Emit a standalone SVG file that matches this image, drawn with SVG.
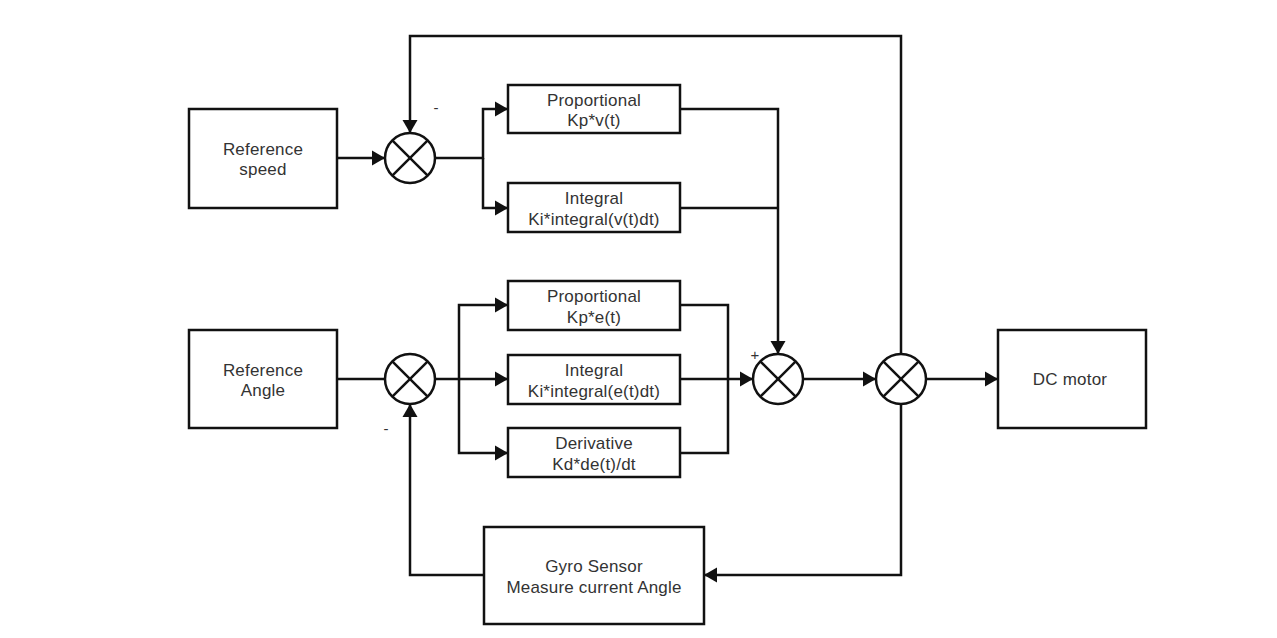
<svg xmlns="http://www.w3.org/2000/svg" width="1277" height="638" viewBox="0 0 1277 638">
<style>
.box{fill:#fff;stroke:#111;stroke-width:2.5}
.sum circle{fill:#fff;stroke:#111;stroke-width:2.5}
.sum line{stroke:#111;stroke-width:2.5}
.t{font-family:"Liberation Sans",Arial,sans-serif;font-size:17px;letter-spacing:0.2px;fill:#333;text-anchor:middle}
.sg{font-family:"Liberation Sans",Arial,sans-serif;font-size:15px;fill:#333;text-anchor:middle}
#connectors path{fill:none;stroke:#111;stroke-width:2.5}
</style>
<defs>
<marker id="arr" markerUnits="userSpaceOnUse" markerWidth="14" markerHeight="16" refX="13" refY="8" orient="auto">
<path d="M0,0.5 L13,8 L0,15.5 Z" fill="#111"/>
</marker>
</defs>
<rect width="1277" height="638" fill="#fff"/>

<g id="connectors">
<path d="M337,158 H385" marker-end="url(#arr)"/>
<path d="M901,354 V36 H410 V133" marker-end="url(#arr)"/>
<path d="M435,158 H483 V109 H508" marker-end="url(#arr)"/>
<path d="M483,158 V208 H508" marker-end="url(#arr)"/>
<path d="M680,109 H778 V354" marker-end="url(#arr)"/>
<path d="M680,208 H778"/>
<path d="M337,379 H385"/>
<path d="M435,379 H459 V305 H508" marker-end="url(#arr)"/>
<path d="M459,379 H508" marker-end="url(#arr)"/>
<path d="M459,379 V453 H508" marker-end="url(#arr)"/>
<path d="M680,305 H728 V453 H680"/>
<path d="M680,379 H753" marker-end="url(#arr)"/>
<path d="M803,379 H876" marker-end="url(#arr)"/>
<path d="M926,379 H998" marker-end="url(#arr)"/>
<path d="M901,404 V575 H704" marker-end="url(#arr)"/>
<path d="M484,575 H410 V404" marker-end="url(#arr)"/>
</g>

<g id="ref-speed">
<rect class="box" x="189" y="109" width="148" height="99"/>
<text class="t" x="263" y="155">Reference</text>
<text class="t" x="263" y="175">speed</text>
</g>

<g id="ref-angle">
<rect class="box" x="189" y="330" width="148" height="98"/>
<text class="t" x="263" y="376">Reference</text>
<text class="t" x="263" y="396">Angle</text>
</g>

<g id="sum1" class="sum">
<circle cx="410" cy="158" r="25"/>
<line x1="392.3" y1="140.3" x2="427.7" y2="175.7"/>
<line x1="427.7" y1="140.3" x2="392.3" y2="175.7"/>
<text class="sg" x="436" y="113">-</text>
</g>

<g id="sum3" class="sum">
<circle cx="410" cy="379" r="25"/>
<line x1="392.3" y1="361.3" x2="427.7" y2="396.7"/>
<line x1="427.7" y1="361.3" x2="392.3" y2="396.7"/>
<text class="sg" x="386" y="434">-</text>
</g>

<g id="sum2" class="sum">
<circle cx="778" cy="379" r="25"/>
<line x1="760.3" y1="361.3" x2="795.7" y2="396.7"/>
<line x1="795.7" y1="361.3" x2="760.3" y2="396.7"/>
<text class="sg" x="755" y="360">+</text>
</g>

<g id="sum4" class="sum">
<circle cx="901" cy="379" r="25"/>
<line x1="883.3" y1="361.3" x2="918.7" y2="396.7"/>
<line x1="918.7" y1="361.3" x2="883.3" y2="396.7"/>
</g>

<g id="prop-speed">
<rect class="box" x="508" y="85" width="172" height="48"/>
<text class="t" x="594" y="106">Proportional</text>
<text class="t" x="594" y="126">Kp*v(t)</text>
</g>

<g id="int-speed">
<rect class="box" x="508" y="183" width="172" height="49"/>
<text class="t" x="594" y="204">Integral</text>
<text class="t" x="594" y="225">Ki*integral(v(t)dt)</text>
</g>

<g id="prop-angle">
<rect class="box" x="508" y="281" width="172" height="49"/>
<text class="t" x="594" y="302">Proportional</text>
<text class="t" x="594" y="323">Kp*e(t)</text>
</g>

<g id="int-angle">
<rect class="box" x="508" y="355" width="172" height="49"/>
<text class="t" x="594" y="376">Integral</text>
<text class="t" x="594" y="397">Ki*integral(e(t)dt)</text>
</g>

<g id="deriv-angle">
<rect class="box" x="508" y="428" width="172" height="49"/>
<text class="t" x="594" y="449">Derivative</text>
<text class="t" x="594" y="470">Kd*de(t)/dt</text>
</g>

<g id="dc-motor">
<rect class="box" x="998" y="330" width="148" height="98"/>
<text class="t" x="1070" y="385">DC motor</text>
</g>

<g id="gyro">
<rect class="box" x="484" y="527" width="220" height="97"/>
<text class="t" x="594" y="572">Gyro Sensor</text>
<text class="t" x="594" y="593">Measure current Angle</text>
</g>
</svg>
